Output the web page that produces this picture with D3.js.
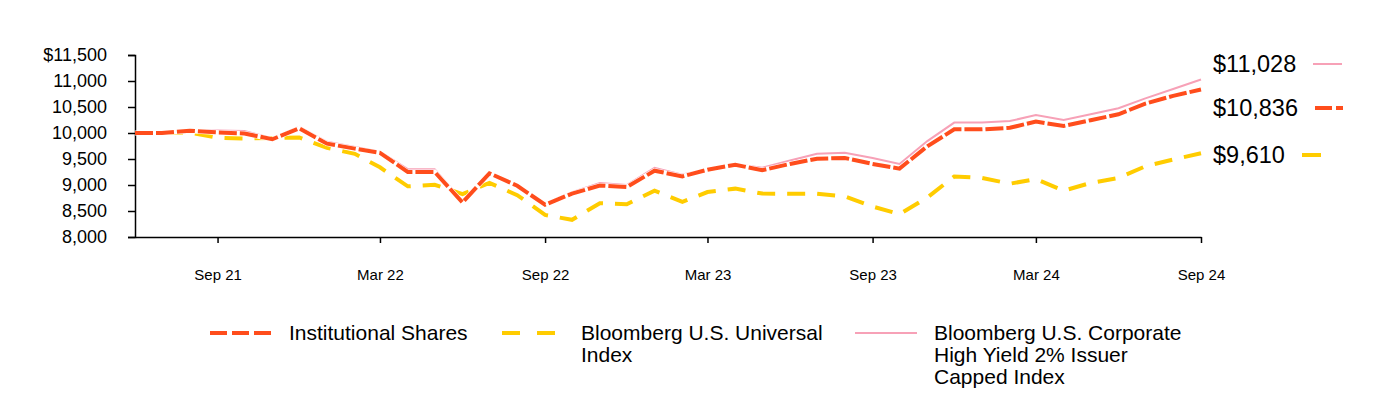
<!DOCTYPE html>
<html>
<head>
<meta charset="utf-8">
<script src="https://cdn.jsdelivr.net/npm/d3@7"></script>
<style>
  body { margin: 0; background: #ffffff; }
  svg text { font-family: Arial, "Liberation Sans", sans-serif; fill: #000; }
</style>
</head>
<body>
<div id="chart"></div>
<script>
// Monthly growth of $10,000, Jun 21 .. Sep 24
const startMonth = new Date(2021, 5, 1);
const tickLabels = ['Sep 21', 'Mar 22', 'Sep 22', 'Mar 23', 'Sep 23', 'Mar 24', 'Sep 24'];
const yTicks = [8000, 8500, 9000, 9500, 10000, 10500, 11000, 11500];

const institutional = [
    10000, 10000, 10045, 10010, 9990, 9880, 10090, 9795, 9700, 9618,
    9250, 9250, 8665, 9225, 8985, 8620, 8835, 8990, 8960, 9275,
    9165, 9295, 9390, 9285, 9405, 9505, 9520, 9405, 9315, 9745,
    10070, 10070, 10100, 10220, 10135, 10245, 10360, 10565, 10715, 10836
];
const universal = [
    10000, 10000, 10010, 9910, 9895, 9905, 9915, 9715, 9600, 9340,
    8975, 9005, 8825, 9040, 8805, 8425, 8330, 8650, 8630, 8890,
    8675, 8865, 8930, 8835, 8830, 8830, 8780, 8585, 8440, 8760,
    9165, 9135, 9025, 9115, 8890, 9040, 9135, 9360, 9490, 9610
];
const highYield = [
    10000, 10000, 10050, 10050, 10040, 9900, 10120, 9830, 9730, 9640,
    9305, 9305, 8690, 9240, 9000, 8640, 8860, 9040, 9000, 9330,
    9200, 9300, 9400, 9330, 9470, 9600, 9620, 9520, 9405, 9845,
    10200, 10200, 10230, 10345, 10250, 10360, 10475, 10665, 10845, 11028
];

const series = [
    { name: 'highYield', values: highYield, color: '#f7a1b7', width: 2, dash: null, endLabel: '$11,028',
      legend: ['Bloomberg U.S. Corporate', 'High Yield 2% Issuer', 'Capped Index'] },
    { name: 'universal', values: universal, color: '#ffcc00', width: 4, dash: '18,12', endLabel: '$9,610',
      legend: ['Bloomberg U.S. Universal', 'Index'] },
    { name: 'institutional', values: institutional, color: '#ff4d1c', width: 4, dash: '18,3', endLabel: '$10,836',
      legend: ['Institutional Shares'] }
];

const width = 1384, height = 400;
const margin = { top: 55, left: 135, right: 183, bottom: 163 };

const svg = d3.select('#chart').append('svg')
    .attr('width', width)
    .attr('height', height);

const dates = institutional.map((d, i) => d3.timeMonth.offset(startMonth, i));

const x = d3.scaleTime()
    .domain([dates[0], dates[dates.length - 1]])
    .range([margin.left, width - margin.right]);

const y = d3.scaleLinear()
    .domain([8000, 11500])
    .range([height - margin.bottom, margin.top]);

// Y axis
const yAxis = svg.append('g')
    .attr('transform', `translate(${margin.left},0)`)
    .call(d3.axisLeft(y).tickValues(yTicks).tickSize(7).tickPadding(21)
        .tickFormat((d, i) => (i === yTicks.length - 1 ? '$' : '') + d3.format(',')(d)));
yAxis.select('.domain').attr('stroke', '#000').attr('stroke-width', 1.5);
yAxis.selectAll('.tick line').attr('stroke', '#000').attr('stroke-width', 1.5);
yAxis.selectAll('.tick text').style('font-size', '18px').attr('font-family', null);

// X axis
const tickDates = tickLabels.map(t => d3.timeParse('%b %y')(t));
const xAxis = svg.append('g')
    .attr('transform', `translate(0,${height - margin.bottom})`)
    .call(d3.axisBottom(x).tickValues(tickDates).tickSize(6).tickSizeOuter(0).tickPadding(26)
        .tickFormat((d, i) => tickLabels[i]));
xAxis.select('.domain').attr('stroke', '#000').attr('stroke-width', 1.5);
xAxis.selectAll('.tick line').attr('stroke', '#000').attr('stroke-width', 1.5);
xAxis.selectAll('.tick text').style('font-size', '15px').attr('font-family', null);

// Lines
const line = d3.line()
    .x((d, i) => x(dates[i]))
    .y(d => y(d));

series.forEach(s => {
    if (s.name === 'institutional') {
        svg.append('path')
            .datum(s.values)
            .attr('d', line)
            .attr('fill', 'none')
            .attr('stroke', '#ffffff')
            .attr('stroke-width', 5);
    }
    svg.append('path')
        .datum(s.values)
        .attr('d', line)
        .attr('fill', 'none')
        .attr('stroke', s.color)
        .attr('stroke-width', s.width)
        .attr('stroke-dasharray', s.dash);
});

// End value labels with line swatches
const endLabels = [
    { s: series[0], y: 64, x1: 1313, x2: 1342 },
    { s: series[2], y: 108, x1: 1315, x2: 1343 },
    { s: series[1], y: 155, x1: 1302, x2: 1321 }
];
endLabels.forEach(e => {
    svg.append('text')
        .attr('x', 1213)
        .attr('y', e.y)
        .attr('dy', '0.35em')
        .style('font-size', '23.5px')
        .text(e.s.endLabel);
    svg.append('line')
        .attr('x1', e.x1).attr('x2', e.x2)
        .attr('y1', e.y).attr('y2', e.y)
        .attr('stroke', e.s.color)
        .attr('stroke-width', e.s.width)
        .attr('stroke-dasharray', e.s.name === 'institutional' ? '17,4' : null);
});

// Bottom legend
const legendItems = [
    { s: series[2], x: 210, len: 61, gap: 18, dash: '17,5' },
    { s: series[1], x: 502, len: 53, gap: 26, dash: '18,17' },
    { s: series[0], x: 855, len: 62, gap: 17, dash: null }
];
legendItems.forEach(item => {
    const g = svg.append('g').attr('transform', `translate(${item.x},333)`);
    g.append('line')
        .attr('x1', 0).attr('x2', item.len)
        .attr('stroke', item.s.color)
        .attr('stroke-width', item.s.width)
        .attr('stroke-dasharray', item.dash);
    item.s.legend.forEach((txt, i) => {
        g.append('text')
            .attr('x', item.len + item.gap)
            .attr('y', i * 22)
            .attr('dy', '0.35em')
            .style('font-size', '21px')
            .text(txt);
    });
});
</script>
</body>
</html>
